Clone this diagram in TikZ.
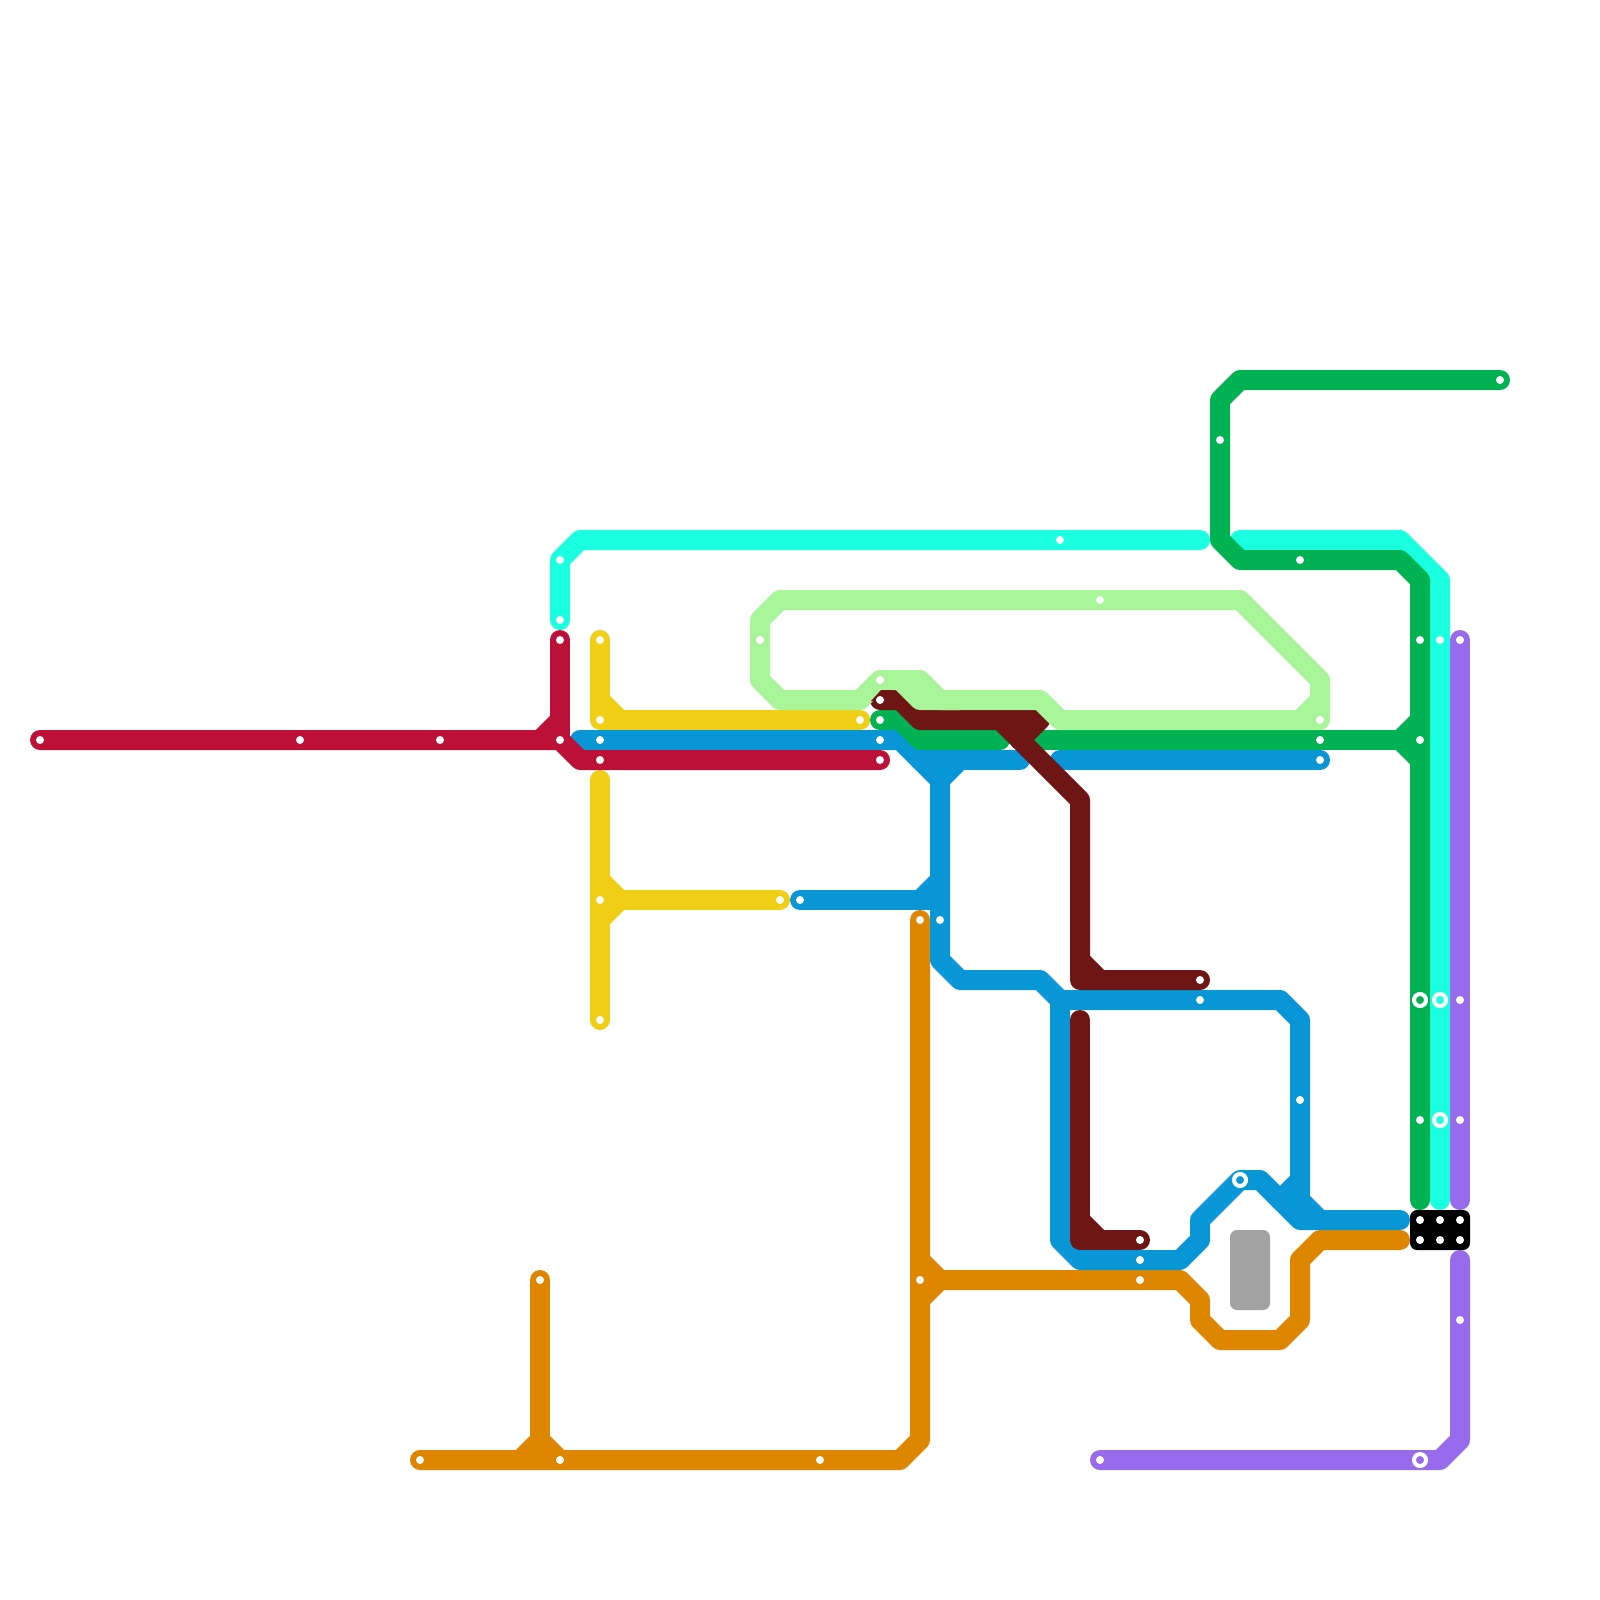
\documentclass[tikz,border=0pt]{standalone}
\definecolor{mred}{HTML}{BD1038}
\definecolor{mcyan}{HTML}{1AFFE0}
\definecolor{myellow}{HTML}{F0CE15}
\definecolor{mblue}{HTML}{0896D7}
\definecolor{mgreen}{HTML}{00B251}
\definecolor{mlight}{HTML}{A9F59A}
\definecolor{mdark}{HTML}{6E1616}
\definecolor{morange}{HTML}{DF8600}
\definecolor{mpurple}{HTML}{986BEC}
\definecolor{mgrey}{HTML}{A2A2A2}
\tikzset{
  metro/.style={line width=20pt,line cap=round,line join=round},
  stop/.style={circle,fill=white,inner sep=0pt,minimum size=8pt},
  ringstop/.style={circle,draw=white,line width=4pt,fill=none,inner sep=0pt,minimum size=12pt}
}
\begin{document}
\begin{tikzpicture}[x=1pt,y=-1pt]
\useasboundingbox (0,0) rectangle (1600,1600);
\fill[white] (0,0) rectangle (1600,1600);
% cyan
\draw[metro,mcyan] (560,620) -- (560,560) -- (580,540) -- (1200,540);
\draw[metro,mcyan] (1240,540) -- (1400,540) -- (1440,580) -- (1440,1200);
% yellow
\draw[metro,myellow] (600,640) -- (600,720) -- (860,720);
\draw[metro,myellow] (600,700) -- (620,720);
\draw[metro,myellow] (600,780) -- (600,1020);
\draw[metro,myellow] (600,880) -- (620,900) -- (600,920);
\draw[metro,myellow] (600,900) -- (780,900);
% orange
\draw[metro,morange] (420,1460) -- (900,1460) -- (920,1440) -- (920,920);
\draw[metro,morange] (540,1280) -- (540,1460);
\draw[metro,morange] (520,1460) -- (540,1440) -- (560,1460);
\draw[metro,morange] (920,1260) -- (940,1280) -- (920,1300);
\draw[metro,morange] (920,1280) -- (1180,1280) -- (1200,1300) -- (1200,1320) -- (1220,1340) -- (1280,1340) -- (1300,1320) -- (1300,1260) -- (1320,1240) -- (1400,1240);
% blue
\draw[metro,mblue] (580,740) -- (900,740) -- (940,780) -- (940,960) -- (960,980) -- (1040,980) -- (1060,1000) -- (1060,1240) -- (1080,1260) -- (1180,1260) -- (1200,1240) -- (1200,1220) -- (1240,1180) -- (1260,1180) -- (1300,1220) -- (1400,1220);
\draw[metro,mblue] (1060,1000) -- (1280,1000) -- (1300,1020) -- (1300,1200) -- (1320,1220);
\draw[metro,mblue] (1280,1200) -- (1300,1180);
\draw[metro,mblue] (800,900) -- (940,900);
\draw[metro,mblue] (920,900) -- (940,880);
\draw[metro,mblue] (920,760) -- (1020,760);
\draw[metro,mblue] (940,780) -- (960,760);
\draw[metro,mblue] (1060,760) -- (1320,760);
% green
\draw[metro,mgreen] (880,720) -- (900,720) -- (920,740) -- (1000,740);
\draw[metro,mgreen] (1040,740) -- (1420,740);
\draw[metro,mgreen] (1400,740) -- (1420,720);
\draw[metro,mgreen] (1400,740) -- (1420,760);
\draw[metro,mgreen] (1500,380) -- (1240,380) -- (1220,400) -- (1220,540) -- (1240,560) -- (1400,560) -- (1420,580) -- (1420,1200);
% purple
\draw[metro,mpurple] (1460,640) -- (1460,1200);
\draw[metro,mpurple] (1460,1260) -- (1460,1440) -- (1440,1460) -- (1100,1460);
% red
\draw[metro,mred] (40,740) -- (560,740) -- (580,760) -- (880,760);
\draw[metro,mred] (560,640) -- (560,740);
\draw[metro,mred] (560,720) -- (540,740);
% dark red
\draw[metro,mdark] (880,700) -- (900,700) -- (920,720) -- (1040,720) -- (1020,740);
\draw[metro,mdark] (1000,720) -- (1080,800) -- (1080,980) -- (1200,980);
\draw[metro,mdark] (1080,960) -- (1100,980);
\draw[metro,mdark] (1080,1020) -- (1080,1240) -- (1140,1240);
\draw[metro,mdark] (1080,1220) -- (1100,1240);
% light green, over the dark red
\draw[metro,mlight] (860,700) -- (780,700) -- (760,680) -- (760,620) -- (780,600) -- (1240,600) -- (1320,680) -- (1320,720) -- (1060,720) -- (1040,700) -- (940,700) -- (920,680) -- (880,680) -- (860,700);
\draw[metro,mlight] (1320,700) -- (1300,720);
\draw[metro,mlight] (900,680) -- (920,700) -- (960,700);
% dark red line end, left of the light green's edge
\fill[mdark] (871,701) -- (881,690) -- (892,690) -- (892,702) -- cycle;
% interchange blocks
\fill[black,rounded corners=7pt] (1410,1210) rectangle (1470,1250);
\fill[mgrey,rounded corners=7pt] (1230,1230) rectangle (1270,1310);
% stops
\foreach \x/\y [count=\i] in {40/740,300/740,440/740,560/740,560/640,560/620,560/560,600/640,600/720,600/740,600/760,600/900,600/1020,780/900,800/900,860/720,880/680,880/700,880/720,880/740,880/760,760/640,920/920,940/920,920/1280,820/1460,560/1460,540/1280,420/1460,1060/540,1100/600,1220/440,1500/380,1300/560,1420/640,1440/640,1460/640,1320/720,1320/740,1320/760,1420/740,1200/980,1200/1000,1300/1100,1140/1240,1140/1260,1140/1280,1460/1000,1460/1120,1420/1120,1460/1320,1100/1460,1420/1220,1440/1220,1460/1220,1420/1240,1440/1240,1460/1240}
  \node[stop] (s\i) at (\x,\y) {};
\foreach \x/\y [count=\i] in {1420/1000,1440/1000,1440/1120,1240/1180,1420/1460}
  \node[ringstop] (r\i) at (\x,\y) {};
\end{tikzpicture}
\end{document}
